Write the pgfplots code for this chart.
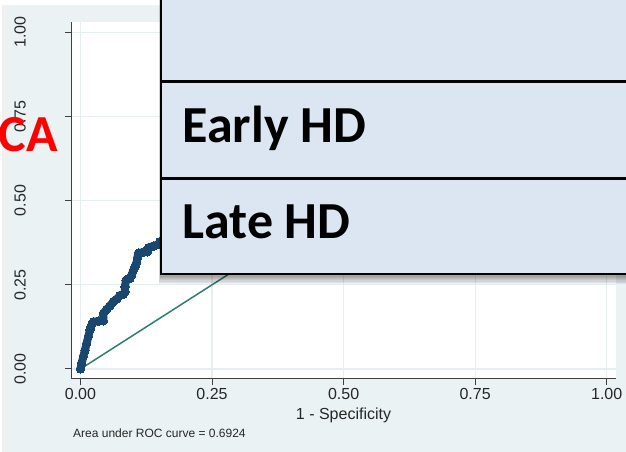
\documentclass[border=0pt]{standalone}
\usepackage{pgfplots}
\pgfplotsset{compat=1.18}
\usepackage{fontspec}
\setmainfont{Liberation Sans}
\newfontfamily\calibri{Carlito}
\definecolor{bgc}{RGB}{234,242,243}
\definecolor{gridc}{RGB}{230,238,240}
\definecolor{navy}{RGB}{26,71,111}
\definecolor{refc}{RGB}{47,125,112}
\definecolor{boxc}{RGB}{220,230,242}
\begin{document}
\begin{tikzpicture}[x=1bp,y=1bp]
\useasboundingbox (0,0) rectangle (626,452);
\clip (0,0) rectangle (626,452);
\fill[white] (0,0) rectangle (626,452);
\fill[black!6] (2,0) rectangle (8,447);
\fill[bgc] (8,0) rectangle (626,447);
\begin{axis}[
  at={(71bp,73bp)}, anchor=south west,
  scale only axis, width=545bp, height=357bp,
  xmin=-0.018, xmax=1.0177, ymin=-0.0297, ymax=1.0306,
  axis x line*=bottom, axis y line*=left,
  axis line style={black!75, line width=1bp, -},
  axis background/.style={fill=white},
  xtick={0,0.25,0.5,0.75,1}, xticklabels={0.00,0.25,0.50,0.75,1.00},
  ytick={0,0.25,0.5,0.75,1}, yticklabels={0.00,0.25,0.50,0.75,1.00},
  tick align=outside, major tick length=6bp,
  tick style={black!75, line width=1bp},
  grid=major, major grid style={gridc, line width=1.2bp},
  /pgf/number format/assume math mode=true,
  tick label style={font=\fontsize{16bp}{16bp}\selectfont, black!85},
  xticklabel style={inner sep=0pt, anchor=north, yshift=-3bp},
  yticklabel style={rotate=90, anchor=south, inner sep=0pt, yshift=39bp},
  xlabel={1 - Specificity},
  xlabel style={font=\fontsize{16bp}{16bp}\selectfont, black!85, inner sep=0pt, yshift=-8bp},
]
\addplot[refc, line width=1.5bp] coordinates {(0,0) (1,1)};
\addplot[navy, line width=8bp, line join=round, line cap=round,
  mark=*, mark size=4.2bp, mark options={fill=navy, draw=navy, line width=0pt}]
coordinates {
(0,0) (0.0022,0.017) (0.0054,0.037) (0.0086,0.056) (0.0117,0.076)
(0.0149,0.096) (0.018,0.116) (0.0212,0.131) (0.0244,0.140) (0.034,0.142)
(0.0434,0.143) (0.0434,0.165) (0.0497,0.177) (0.056,0.187) (0.0624,0.200)
(0.0687,0.207) (0.075,0.218) (0.0814,0.222) (0.0846,0.230) (0.0846,0.244)
(0.0865,0.264) (0.094,0.269) (0.0972,0.279) (0.1004,0.292) (0.1036,0.304)
(0.1067,0.316) (0.108,0.329) (0.1099,0.344) (0.1194,0.347) (0.127,0.348)
(0.1289,0.360) (0.1384,0.365) (0.1479,0.370) (0.151,0.378) (0.16,0.382)
(0.2,0.43) (0.3,0.55) (0.4,0.65) (0.5,0.74) (0.6,0.82) (0.75,0.91)
(0.9,0.97) (1,1)};
\end{axis}
\node[anchor=base west, inner sep=0pt, font=\fontsize{12bp}{12bp}\selectfont, black!85] at (73,14) {Area under ROC curve = 0.6924};
% shadow of overlay box
\foreach \i in {1,...,8} {
  \fill[black, opacity=0.06] (161-0.3*\i,178-1.3*\i) rectangle (640,470);
}
\fill[boxc] (161,178) rectangle (640,470);
\draw[black, line width=2.5bp] (161,470) -- (161,178) -- (640,178);
\draw[black, line width=2.5bp] (161,273.7) -- (640,273.7);
\draw[black, line width=2.5bp] (161,370.3) -- (640,370.3);
\node[anchor=base west, inner sep=0pt, font=\calibri\bfseries\fontsize{52bp}{52bp}\selectfont] at (182.3,309.3) {Early HD};
\node[anchor=base west, inner sep=0pt, font=\calibri\bfseries\fontsize{52bp}{52bp}\selectfont] at (182.3,213.7) {Late HD};
\node[anchor=base east, inner sep=0pt, text=red, font=\calibri\bfseries\fontsize{52bp}{52bp}\selectfont] at (58,300) {CA};
\end{tikzpicture}
\end{document}
